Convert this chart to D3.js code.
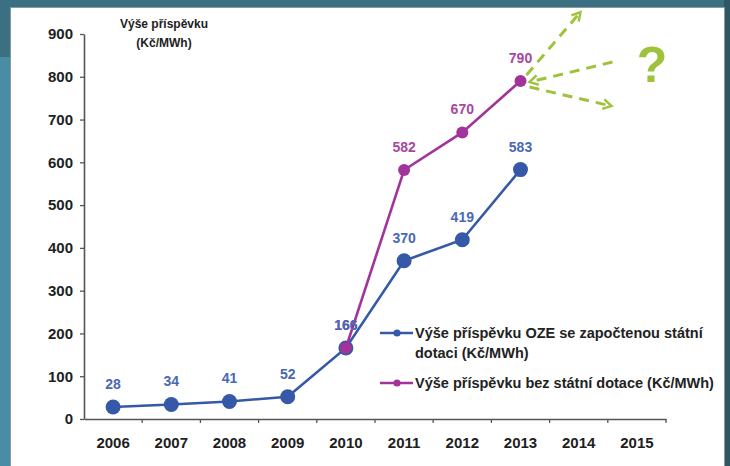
<!DOCTYPE html>
<html>
<head>
<meta charset="utf-8">
<script src="https://cdn.jsdelivr.net/npm/d3@7"></script>
<style>
  body { margin: 0; background: #3b7083; }
  svg { display: block; font-family: "Liberation Sans", Arial, sans-serif; }
</style>
</head>
<body>
<svg id="chart" width="730" height="466"></svg>
<script>
// data
const years = ["2006", "2007", "2008", "2009", "2010", "2011", "2012", "2013", "2014", "2015"];
const yTicks = [0, 100, 200, 300, 400, 500, 600, 700, 800, 900];
const withSubsidyYears = ["2006", "2007", "2008", "2009", "2010", "2011", "2012", "2013"];
const withSubsidy = [28, 34, 41, 52, 166, 370, 419, 583];
const noSubsidyYears = ["2010", "2011", "2012", "2013"];
const noSubsidy = [166, 582, 670, 790];
const legendLabels = [
  ["Výše příspěvku OZE se započtenou státní", "dotaci (Kč/MWh)"],
  ["Výše příspěvku bez státní dotace (Kč/MWh)"]
];

const blue = "#3558a8", blueLbl = "#4a68b4";
const purple = "#a2339a", purpleLbl = "#a8479f";
const green = "#9fc23c";

const svg = d3.select("#chart");

//Slide background + white panel
svg.append("rect").attr("x", 0).attr("y", 0).attr("width", 730).attr("height", 466).attr("fill", "#3b7083");
svg.append("rect").attr("x", 0).attr("y", 57).attr("width", 12).attr("height", 409).attr("fill", "#4a8ca6");
svg.append("rect").attr("x", 724).attr("y", 0).attr("width", 6).attr("height", 466).attr("fill", "#2c5864");
svg.append("rect").attr("x", 10).attr("y", 7).attr("width", 715).attr("height", 459).attr("fill", "#8a9aa0");
svg.append("rect").attr("x", 11).attr("y", 8).attr("width", 713).attr("height", 458).attr("fill", "#ffffff");

//Scales
const x = d3.scaleBand().domain(years).range([84, 666]).padding(0);
const y = d3.scaleLinear().domain([0, 900]).range([419, 34]);
const cx = (d) => x(d) + x.bandwidth() / 2;

//Y axis
const gy = svg.append("g").attr("transform", "translate(84,0)")
  .call(d3.axisLeft(y).tickValues(yTicks).tickSize(4).tickPadding(7).tickSizeOuter(0));
gy.select(".domain").attr("stroke", "#555").attr("stroke-width", 1.6);
gy.selectAll(".tick line").attr("stroke", "#555").attr("stroke-width", 1.3);
gy.selectAll(".tick text").attr("fill", "#1e1e1e").attr("font-size", 15).attr("font-weight", "bold")
  .attr("font-family", "Liberation Sans, Arial, sans-serif");

//X axis - labels at centers, ticks at band edges
const gx = svg.append("g").attr("transform", "translate(0,419)")
  .call(d3.axisBottom(x).tickSize(0).tickPadding(18).tickSizeOuter(0));
gx.select(".domain").attr("stroke", "#555").attr("stroke-width", 1.6);
gx.selectAll(".tick text").attr("fill", "#1e1e1e").attr("font-size", 15).attr("font-weight", "bold")
  .attr("font-family", "Liberation Sans, Arial, sans-serif");
gx.selectAll(".edge")
  .data(years)
  .join("line")
  .attr("class", "edge")
  .attr("x1", (d) => x(d) + x.bandwidth()).attr("x2", (d) => x(d) + x.bandwidth())
  .attr("y1", 0).attr("y2", 4)
  .attr("stroke", "#555").attr("stroke-width", 1.3);

//Y title
const ttl = svg.append("text").attr("x", 164).attr("y", 28).attr("text-anchor", "middle")
  .attr("font-size", 12).attr("font-weight", "bold").attr("fill", "#222");
ttl.append("tspan").attr("x", 164).text("Výše příspěvku");
ttl.append("tspan").attr("x", 164).attr("dy", 19).text("(Kč/MWh)");

//Series: lines + dots first, labels afterwards (blue labels on top)
function drawSeries(cats, vals, col, r) {
  const pts = cats.map((c, i) => [cx(c), y(vals[i])]);
  svg.append("path").attr("d", d3.line()(pts)).attr("fill", "none")
    .attr("stroke", col).attr("stroke-width", 2.6);
  svg.append("g").selectAll("circle").data(pts).join("circle")
    .attr("cx", (d) => d[0]).attr("cy", (d) => d[1]).attr("r", r).attr("fill", col);
}
function drawLabels(cats, vals, lblCol) {
  svg.append("g").selectAll("text").data(vals).join("text")
    .attr("x", (d, i) => cx(cats[i])).attr("y", (d) => y(d) - 18)
    .attr("text-anchor", "middle").attr("font-size", 14).attr("font-weight", "bold")
    .attr("fill", lblCol).text((d) => d);
}
drawSeries(withSubsidyYears, withSubsidy, blue, 7.5);
drawSeries(noSubsidyYears, noSubsidy, purple, 6);
drawLabels(noSubsidyYears, noSubsidy, purpleLbl);
drawLabels(withSubsidyYears, withSubsidy, blueLbl);

//Legend
const leg = [[blue, 333], [purple, 383]];
leg.forEach(([col, ly], i) => {
  svg.append("line").attr("x1", 380).attr("x2", 413).attr("y1", ly).attr("y2", ly)
    .attr("stroke", col).attr("stroke-width", 2.4);
  svg.append("circle").attr("cx", 397).attr("cy", ly).attr("r", 3.6).attr("fill", col);
  const t = svg.append("text").attr("x", 415).attr("y", ly + 5).attr("font-size", 14.5)
    .attr("font-weight", "bold").attr("fill", "#222");
  legendLabels[i].forEach((s, k) => t.append("tspan").attr("x", 415).attr("dy", k ? 20 : 0).text(s));
});

//Green "what next" arrows from the last point
const defs = svg.append("defs");
defs.append("marker").attr("id", "arr").attr("viewBox", "0 0 10 10")
  .attr("refX", 8).attr("refY", 5).attr("markerWidth", 4).attr("markerHeight", 4)
  .attr("orient", "auto").attr("markerUnits", "strokeWidth")
  .append("path").attr("d", "M1,1 L8,5 L1,9").attr("fill", "none")
  .attr("stroke", green).attr("stroke-width", 2);
const px = cx("2013"), py = y(noSubsidy[3]);
const arrows = [
  [[px + 6, py - 6], [px + 60, py - 69]],
  [[px + 92, py - 19], [px + 9, py + 1]],
  [[px + 9, py + 6], [px + 91, py + 25]]
];
arrows.forEach(([a, b]) => {
  svg.append("line").attr("x1", a[0]).attr("y1", a[1]).attr("x2", b[0]).attr("y2", b[1])
    .attr("stroke", green).attr("stroke-width", 3).attr("stroke-dasharray", "10,7")
    .attr("marker-end", "url(#arr)");
});
svg.append("text").attr("x", 652).attr("y", 82).attr("text-anchor", "middle")
  .attr("font-size", 50).attr("font-weight", "bold").attr("fill", green).text("?");
</script>
</body>
</html>
